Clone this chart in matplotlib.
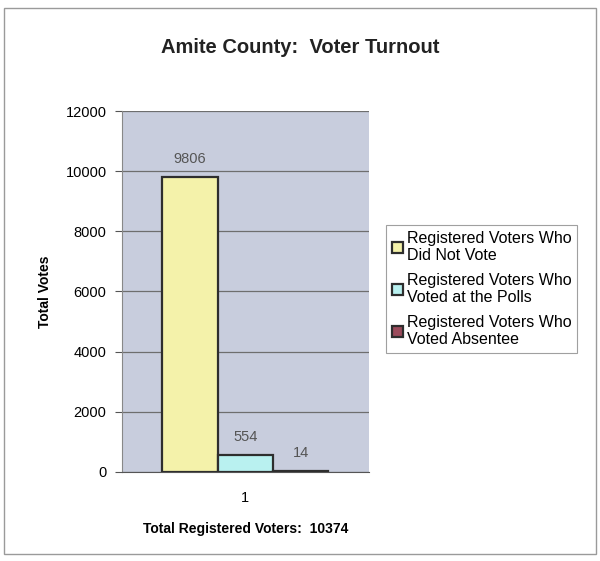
import numpy as np
import matplotlib.pyplot as plt
from matplotlib.patches import Rectangle

# data
series = ['Registered Voters Who\nDid Not Vote',
          'Registered Voters Who\nVoted at the Polls',
          'Registered Voters Who\nVoted Absentee']
votes = [9806, 554, 14]
colors = ['#f4f2aa', '#b9f1f0', '#9b4b5c']
categories = ['1']
total_registered = 10374

plt.rcParams['font.family'] = ['Liberation Sans', 'DejaVu Sans']

fig = plt.figure(figsize=(6.0, 5.61), dpi=100)
fig.patch.set_facecolor('white')
fig.add_artist(Rectangle((0.007, 0.012), 0.986, 0.974, transform=fig.transFigure,
                         fill=False, edgecolor='#9a9a9a', linewidth=1.0))

ax = fig.add_axes([0.203, 0.159, 0.412, 0.643])
ax.set_facecolor('#c8cddd')

w = 0.224
offsets = [-w, 0, w]
for i in range(len(votes)):
    ax.bar(0 + offsets[i], votes[i], width=w, color=colors[i], edgecolor='#2e2e2e',
           linewidth=1.6, label=series[i], zorder=3)
    ax.text(0 + offsets[i], votes[i] + 380, str(votes[i]), ha='center', va='bottom',
            fontsize=10.5, color='#555555')

ax.set_xlim(-0.5, 0.5)
ax.set_ylim(0, 12000)
ax.set_yticks(np.arange(0, 12001, 2000))
ax.set_xticks([0])
ax.set_xticklabels(categories)
ax.yaxis.grid(True, color='#6e6e6e', linewidth=0.9, zorder=0)
ax.set_axisbelow(True)
for s in ['top', 'right']:
    ax.spines[s].set_visible(False)
ax.spines['left'].set_color('#888888')
ax.spines['bottom'].set_color('#555555')
ax.tick_params(axis='y', labelsize=10.5, length=5, color='#555555', pad=6)
ax.tick_params(axis='x', labelsize=10.5, length=0, pad=14)

ax.set_ylabel('Total Votes', fontsize=10, fontweight='bold', labelpad=10)
ax.set_xlabel('Total Registered Voters:  %d' % total_registered, fontsize=10,
              fontweight='bold', labelpad=12)
fig.text(0.5, 0.915, 'Amite County:  Voter Turnout', ha='center', va='center',
         fontsize=14.5, fontweight='bold', color='#222222')

leg = ax.legend(loc='upper left', bbox_to_anchor=(1.069, 0.684), fontsize=11.5,
                frameon=True, fancybox=False, edgecolor='#888888',
                handlelength=0.7, handleheight=0.7, handletextpad=0.25,
                labelspacing=0.6, borderpad=0.35, borderaxespad=0)
leg.get_frame().set_linewidth(0.8)

fig.savefig('out.png', dpi=100)
